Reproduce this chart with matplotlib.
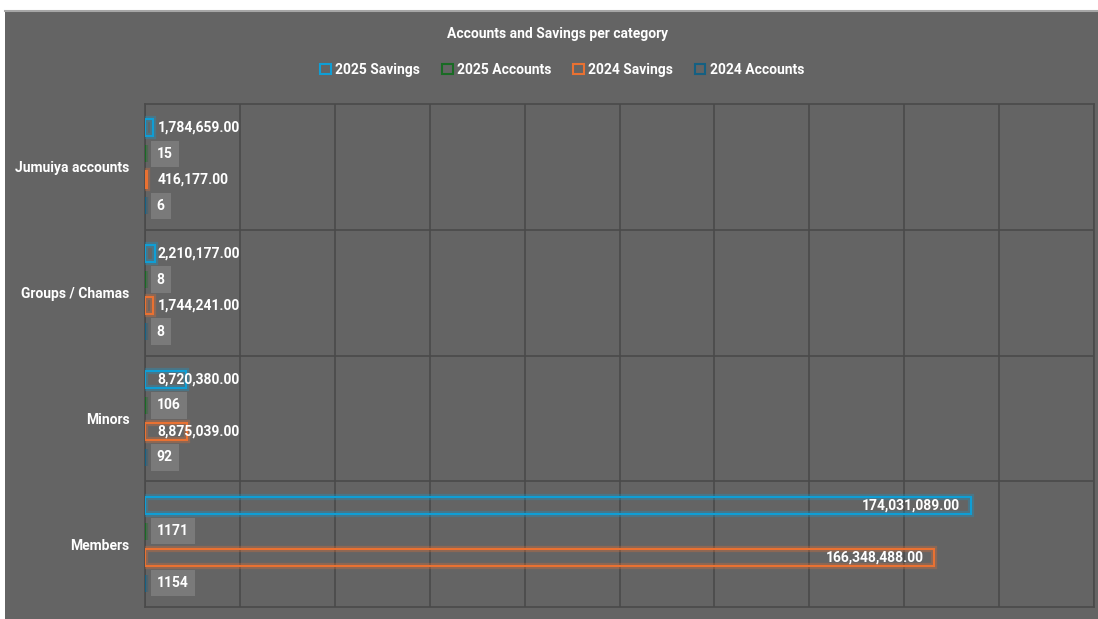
import numpy as np
import matplotlib
matplotlib.use("Agg")
import matplotlib.pyplot as plt
import matplotlib.patheffects as pe
from matplotlib import font_manager
from matplotlib.patches import Patch, Rectangle

categories = ["Jumuiya accounts", "Groups / Chamas", "Minors", "Members"]
series_names = ["2025 Savings", "2025 Accounts", "2024 Savings", "2024 Accounts"]
savings_2025 = [1784659.00, 2210177.00, 8720380.00, 174031089.00]
accounts_2025 = [15, 8, 106, 1171]
savings_2024 = [416177.00, 1744241.00, 8875039.00, 166348488.00]
accounts_2024 = [6, 8, 92, 1154]


def pick_font(names):
    for name in names:
        try:
            font_manager.findfont(name, fallback_to_default=False)
            return name
        except Exception:
            pass
    return "DejaVu Sans"


font = pick_font(["Roboto", "Liberation Sans"])
plt.rcParams["font.family"] = font
plt.rcParams["font.weight"] = "bold"

bg = "#646464"
grid = "#4a4a4a"
box = "#7a7a7a"
colors = ["#0F9ED5", "#196B24", "#E97132", "#156082"]
fs = 10

W, H = 1098, 619
fig = plt.figure(figsize=(W / 100, H / 100), dpi=100)
fig.patch.set_facecolor("white")
# chart area panel
fig.add_artist(Rectangle((5 / W, 0), 1 - 5 / W, 1 - 11 / H, transform=fig.transFigure,
                         facecolor=bg, edgecolor="none", zorder=0))
fig.add_artist(plt.Line2D([5 / W, 1], [1 - 11 / H, 1 - 11 / H], transform=fig.transFigure,
                          color="#a6a6a6", lw=1.5, zorder=1))

ax = fig.add_axes([145 / W, 1 - 607 / H, (1094 - 145) / W, (607 - 104) / H])
ax.set_facecolor(bg)

y = np.arange(len(categories))
bar_h = 0.135
offsets = [-0.31, -0.103, 0.103, 0.31]
all_series = [savings_2025, accounts_2025, savings_2024, accounts_2024]

for i, (vals, col) in enumerate(zip(all_series, colors)):
    bars = ax.barh(y + offsets[i], vals, height=bar_h, facecolor="none",
                   edgecolor=col, linewidth=1.5, zorder=3)
    for b in bars:
        b.set_path_effects([pe.Stroke(linewidth=4.5, foreground=col, alpha=0.3), pe.Normal()])
    for yy, v in zip(y + offsets[i], vals):
        if i in (0, 2):
            txt = f"{v:,.2f}"
            if v > 20e6:
                ax.text(v - 2.2e6, yy, txt, ha="right", va="center", color="white",
                        fontsize=fs, fontweight="bold", zorder=5)
            else:
                ax.text(2.7e6, yy, txt, ha="left", va="center", color="white",
                        fontsize=fs, fontweight="bold", zorder=5)
        else:
            ax.text(2.5e6, yy, f"{v}", ha="left", va="center", color="white",
                    fontsize=fs, fontweight="bold", zorder=5,
                    bbox=dict(boxstyle="square,pad=0.45", facecolor=box, edgecolor="none"))

ax.set_xlim(0, 200e6)
ax.set_ylim(len(categories) - 0.5, -0.5)
ax.set_xticks(np.arange(0, 200e6 + 1, 20e6))
ax.set_xticklabels([])
ax.tick_params(axis="x", length=0)
ax.grid(axis="x", color=grid, lw=1.2, zorder=1)
ax.set_yticks(y)
ax.set_yticklabels(categories, color="white", fontsize=fs, fontweight="bold")
ax.tick_params(axis="y", length=0, pad=11)
for yb in np.arange(0.5, len(categories) - 0.5, 1):
    ax.axhline(yb, color=grid, lw=1.2, zorder=1)
for s in ax.spines.values():
    s.set_color(grid)
    s.set_linewidth(1.2)

fig.text(0.508, 1 - 34 / H, "Accounts and Savings per category", ha="center", va="center",
         color="white", fontsize=fs, fontweight="bold")

handles = [Patch(facecolor="none", edgecolor=c, linewidth=1.5) for c in colors]
leg = fig.legend(handles, series_names, loc="center", bbox_to_anchor=(0.512, 1 - 70 / H),
                 ncol=4, frameon=False, handlelength=0.75, handleheight=0.75,
                 handletextpad=0.3, columnspacing=1.6, fontsize=fs)
for t in leg.get_texts():
    t.set_color("white")
    t.set_fontweight("bold")

fig.savefig("out.png", dpi=100, facecolor=fig.get_facecolor())
